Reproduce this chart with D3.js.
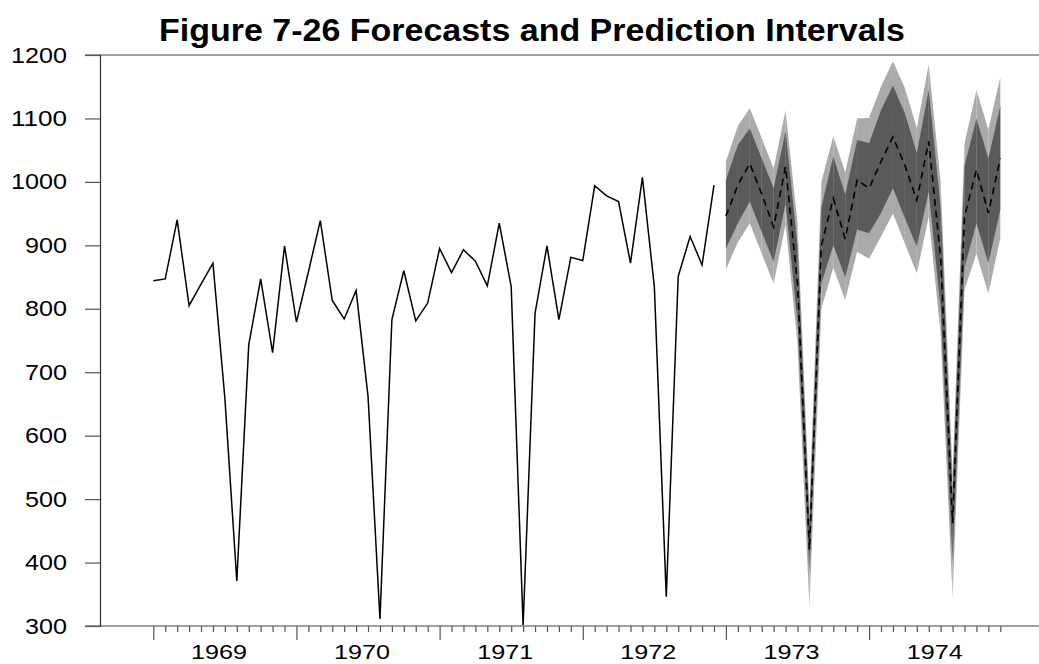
<!DOCTYPE html>
<html><head><meta charset="utf-8">
<script src="https://cdn.jsdelivr.net/npm/d3@7"></script>
<style>
html,body{margin:0;padding:0;background:#fff;}
svg{display:block;font-family:"Liberation Sans",Arial,Helvetica,sans-serif;}
</style></head>
<body><svg id="c" width="1039" height="664"></svg>
<script>
// ---- data ----
const startYear = 1969;
const actual = [
  844, 847, 940, 805, 839, 872, 659, 371, 743, 847, 731, 899,
  779, 858, 939, 813, 784, 829, 662, 311, 783, 860, 781, 809,
  895, 857, 893, 875, 836, 935, 835, 301, 793, 899, 783, 881,
  876, 994, 978, 969, 872, 1007, 835, 346, 851, 914, 869, 995
];
const forecast = [
  946, 995, 1029, 981, 929, 1024, 840, 420, 900, 974, 910, 1003,
  990, 1032, 1071, 1026, 971, 1064, 880, 462, 945, 1019, 951, 1037
];
const lo95 = [862, 905, 935, 887, 840, 933, 745, 330, 800, 865, 814, 890,
              879, 914, 950, 903, 856, 945, 760, 345, 830, 887, 824, 911];
const lo80 = [895, 935, 969, 921, 874, 966, 780, 385, 840, 900, 850, 925,
              919, 951, 990, 943, 898, 985, 800, 400, 865, 935, 872, 956];
const hi80 = [1003, 1058, 1084, 1037, 990, 1080, 900, 465, 960, 1040, 980, 1066,
              1061, 1113, 1152, 1108, 1045, 1145, 960, 510, 1025, 1100, 1037, 1120];
const hi95 = [1032, 1088, 1116, 1069, 1021, 1113, 935, 490, 1000, 1072, 1015, 1100,
              1101, 1150, 1190, 1148, 1085, 1185, 1000, 540, 1060, 1145, 1082, 1165];
const yTicks = [300, 400, 500, 600, 700, 800, 900, 1000, 1100, 1200];
const yearLabels = ["1969", "1970", "1971", "1972", "1973", "1974"];
const title = "Figure 7-26 Forecasts and Prediction Intervals";

// ---- scales ----
const svg = d3.select("#c");
const x = d3.scaleLinear().domain([startYear, startYear + 71/12]).range([153.3, 1000.3]);
const y = d3.scaleLinear().domain([300, 1200]).range([626, 55]);
const tA = actual.map((v,i)=>startYear + i/12);
const tF = forecast.map((v,i)=>startYear + (48+i)/12);

// ---- bands (drawn month by month) ----
function bands(lo, hi, color) {
  const g = svg.append("g");
  for (let i = 0; i < tF.length - 1; i++) {
    const pts = [[x(tF[i]), y(hi[i])], [x(tF[i+1]), y(hi[i+1])],
                 [x(tF[i+1]), y(lo[i+1])], [x(tF[i]), y(lo[i])]];
    g.append("path").attr("d", "M" + pts.map(p=>p.join(",")).join("L") + "Z")
      .attr("fill", color);
  }
}
bands(lo95, hi95, "#aaaaaa");
bands(lo80, hi80, "#5a5a5a");

// ---- lines ----
const line = d3.line().x(d=>x(d[0])).y(d=>y(d[1]));
svg.append("path").datum(tA.map((t,i)=>[t, actual[i]]))
  .attr("d", line).attr("fill","none").attr("stroke","#000").attr("stroke-width",1.5)
  .attr("stroke-linejoin","miter");
svg.append("path").datum(tF.map((t,i)=>[t, forecast[i]]))
  .attr("d", line).attr("fill","none").attr("stroke","#000").attr("stroke-width",1.6)
  .attr("stroke-dasharray","7,5");

// ---- axes ----
svg.append("line").attr("x1",85).attr("x2",1039).attr("y1",y(1200)).attr("y2",y(1200))
  .attr("stroke","#808080").attr("stroke-width",1.5);
svg.append("line").attr("x1",85).attr("x2",1039).attr("y1",y(300)).attr("y2",y(300))
  .attr("stroke","#808080").attr("stroke-width",1.5);

const yAxis = d3.axisLeft(y).tickValues(yTicks).tickSize(15).tickPadding(18).tickFormat(d3.format("d"));
const gy = svg.append("g").attr("transform","translate(100,0)").call(yAxis);
gy.select(".domain").attr("stroke","#333").attr("stroke-width",1.2);
gy.selectAll(".tick line").attr("stroke","#555").attr("stroke-width",1.2);
gy.selectAll(".tick text").attr("font-size",22).attr("fill","#000")
  .attr("font-family","Liberation Sans, Arial, sans-serif")
  .attr("textLength", d=>String(d).length*14).attr("lengthAdjust","spacingAndGlyphs");

// month ticks
const monthTicks = d3.range(72).map(i=>startYear + i/12);
const xAxis = d3.axisBottom(x).tickValues(monthTicks).tickSizeOuter(0)
  .tickSize(6).tickFormat("");
const gx = svg.append("g").attr("transform","translate(0,626)").call(xAxis);
gx.select(".domain").remove();
gx.selectAll(".tick line").attr("stroke","#555").attr("stroke-width",1.2)
  .attr("y2", (d,i)=> i % 12 === 0 ? 14 : 6);

// year labels
svg.append("g").selectAll("text").data(yearLabels).join("text")
  .attr("x", (d,i)=> x(startYear + i + 5.5/12))
  .attr("y", 659).attr("text-anchor","middle").attr("font-size",21).attr("fill","#000")
  .attr("textLength",56).attr("lengthAdjust","spacingAndGlyphs")
  .text(d=>d);

// title
svg.append("text").attr("x",532).attr("y",41).attr("text-anchor","middle")
  .attr("font-size",31).attr("font-weight","bold").attr("fill","#000")
  .attr("textLength",746).attr("lengthAdjust","spacingAndGlyphs")
  .text(title);
</script></body></html>
